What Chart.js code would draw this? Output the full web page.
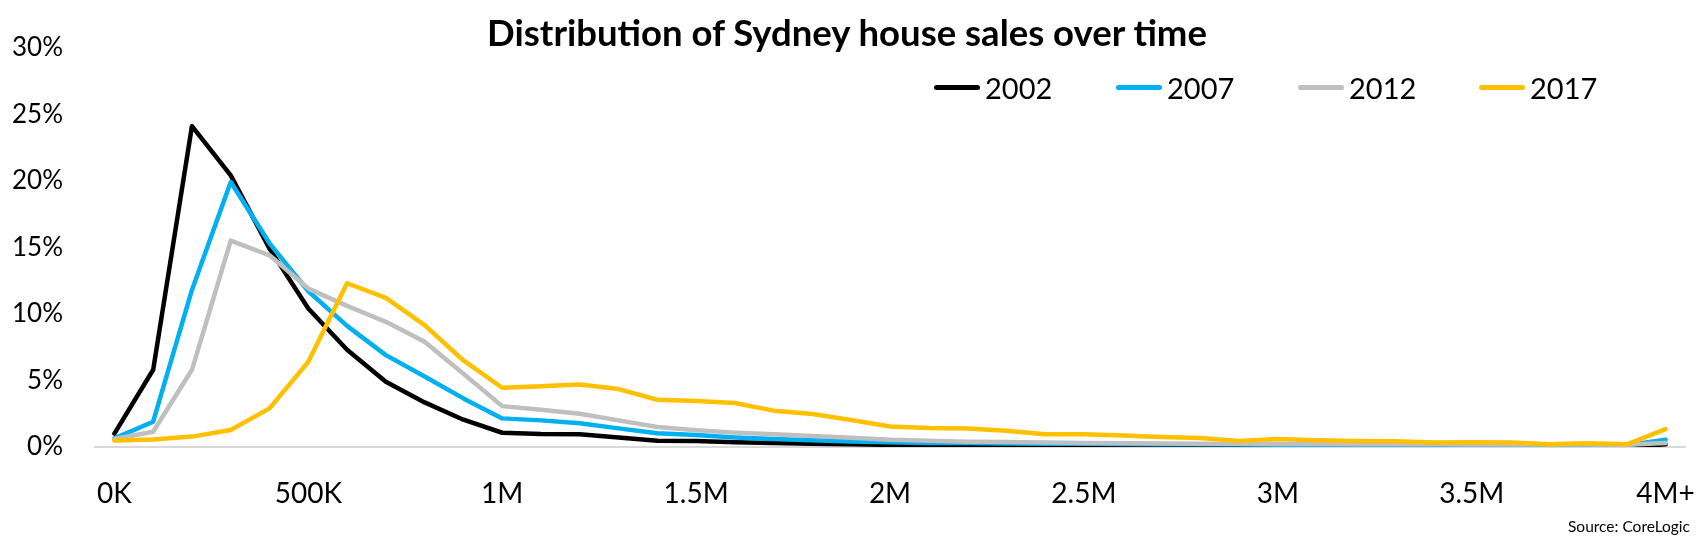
<!DOCTYPE html>
<html>
<head>
<meta charset="utf-8">
<script src="https://cdn.jsdelivr.net/npm/chart.js@4.4.0/dist/chart.umd.min.js"></script>
<style>
  html, body { margin: 0; padding: 0; background: #ffffff; }
  #wrap { position: relative; width: 1699px; height: 543px; overflow: hidden; background: #fff; font-family: Lato, "Open Sans", sans-serif; color: #000; }
  #c { position: absolute; left: 0; top: 0; }
  #title { position: absolute; left: 0; width: 1694px; top: 10px; text-align: center; font-weight: bold; font-size: 36.5px; line-height: 44px; }
  .leg { position: absolute; top: 70px; height: 34px; display: flex; align-items: center; font-size: 29px; }
  .leg span.sw { display: inline-block; width: 46px; height: 5px; border-radius: 3px; margin-right: 5px; }
  #src { position: absolute; right: 9px; top: 516px; font-size: 15.5px; line-height: 20px; }
</style>
</head>
<body>
<div id="wrap">
  <canvas id="c" width="1699" height="543"></canvas>
  <div id="title">Distribution of Sydney house sales over time</div>
  <div id="legend"></div>
  <div id="src">Source: CoreLogic</div>
</div>
<script>
// Categories: price bands in 100K steps, 0K .. 4M+
const categories = ["0K","100K","200K","300K","400K","500K","600K","700K","800K","900K",
  "1M","1.1M","1.2M","1.3M","1.4M","1.5M","1.6M","1.7M","1.8M","1.9M",
  "2M","2.1M","2.2M","2.3M","2.4M","2.5M","2.6M","2.7M","2.8M","2.9M",
  "3M","3.1M","3.2M","3.3M","3.4M","3.5M","3.6M","3.7M","3.8M","3.9M","4M+"];

// Tick labels shown on the x axis
const tickLabels = ["0K","500K","1M","1.5M","2M","2.5M","3M","3.5M","4M+"];

// Share of sales (%) per price band
const s2002 = [1.0, 5.8, 24.1, 20.4, 14.9, 10.4, 7.3, 4.9, 3.35, 2.05,
  1.07, 0.98, 0.96, 0.72, 0.47, 0.45, 0.36, 0.3, 0.25, 0.2,
  0.16, 0.13, 0.1, 0.1, 0.09, 0.08, 0.07, 0.07, 0.06, 0.06,
  0.05, 0.05, 0.05, 0.04, 0.04, 0.04, 0.04, 0.03, 0.03, 0.03, 0.2];
const s2007 = [0.65, 1.9, 11.8, 19.9, 15.3, 11.7, 9.1, 6.9, 5.3, 3.65,
  2.15, 2.0, 1.78, 1.4, 1.03, 0.9, 0.72, 0.6, 0.5, 0.42,
  0.35, 0.3, 0.3, 0.27, 0.25, 0.24, 0.22, 0.2, 0.2, 0.18,
  0.17, 0.17, 0.16, 0.15, 0.15, 0.14, 0.14, 0.13, 0.13, 0.13, 0.55];
const s2012 = [0.6, 1.15, 5.8, 15.5, 14.4, 11.9, 10.6, 9.4, 7.9, 5.5,
  3.07, 2.8, 2.5, 2.0, 1.5, 1.25, 1.08, 0.95, 0.82, 0.7,
  0.55, 0.47, 0.4, 0.37, 0.33, 0.3, 0.28, 0.27, 0.25, 0.24,
  0.23, 0.22, 0.21, 0.2, 0.2, 0.19, 0.19, 0.18, 0.18, 0.17, 0.3];
const s2017 = [0.48, 0.57, 0.78, 1.28, 2.9, 6.4, 12.3, 11.2, 9.15, 6.5,
  4.45, 4.57, 4.7, 4.35, 3.55, 3.45, 3.3, 2.73, 2.48, 2.03,
  1.54, 1.42, 1.39, 1.22, 0.96, 0.96, 0.86, 0.75, 0.68, 0.46,
  0.61, 0.51, 0.46, 0.43, 0.33, 0.35, 0.33, 0.2, 0.28, 0.2, 1.34];

const seriesNames = ["2002", "2007", "2012", "2017"];
const seriesColors = ["#000000", "#00B0F0", "#BFBFBF", "#FFC000"];
const seriesData = [s2002, s2007, s2012, s2017];

// HTML legend
const legendLefts = [934, 1116, 1298, 1479];
const legendEl = document.getElementById('legend');
seriesNames.forEach((n, i) => {
  const d = document.createElement('div');
  d.className = 'leg';
  d.style.left = legendLefts[i] + 'px';
  d.innerHTML = '<span class="sw" style="background:' + seriesColors[i] + '"></span><span>' + n + '</span>';
  legendEl.appendChild(d);
});

const fam = 'Lato, "Open Sans", sans-serif';

new Chart(document.getElementById('c'), {
  type: 'line',
  data: {
    labels: categories,
    datasets: seriesNames.map((n, i) => ({
      label: n,
      data: seriesData[i],
      borderColor: seriesColors[i],
      backgroundColor: seriesColors[i],
      borderWidth: 4.5,
      pointRadius: 0,
      tension: 0,
      borderJoinStyle: 'round',
      borderCapStyle: 'round',
      fill: false
    })).reverse()
  },
  options: {
    responsive: false,
    animation: false,
    devicePixelRatio: 1,
    layout: { padding: { left: 0, right: 14, top: 47, bottom: 0 } },
    plugins: { legend: { display: false }, title: { display: false }, tooltip: { enabled: false } },
    scales: {
      x: {
        offset: true,
        grid: { display: false, drawTicks: true, tickLength: 30, tickColor: 'rgba(0,0,0,0)' },
        border: { display: true, color: '#D9D9D9', width: 2 },
        ticks: {
          autoSkip: false,
          maxRotation: 0,
          padding: 0,
          color: '#000',
          font: { family: fam, size: 28 },
          callback: function(v, idx) {
            const lab = categories[idx];
            return tickLabels.includes(lab) ? lab : '';
          }
        },
        afterFit: function(s) { s.height = 96; }
      },
      y: {
        min: 0, max: 30,
        grid: { display: false, drawTicks: false },
        border: { display: false },
        ticks: {
          stepSize: 5,
          padding: 32,
          color: '#000',
          font: { family: fam, size: 26 },
          callback: v => v + '%'
        },
        afterFit: function(s) { s.width = 95; }
      }
    }
  }
});
</script>
</body>
</html>
